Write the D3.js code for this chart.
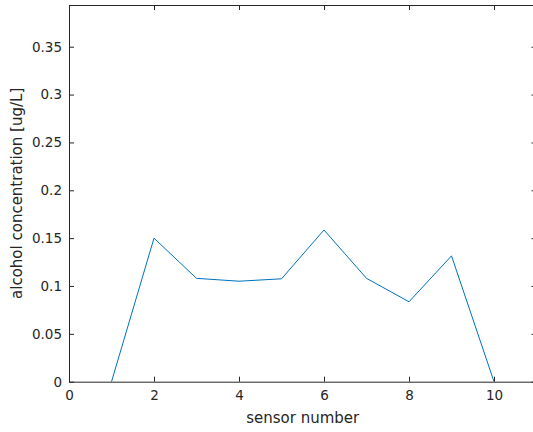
<!DOCTYPE html>
<html>
<head>
<meta charset="utf-8">
<script src="https://cdn.jsdelivr.net/npm/d3@7"></script>
<style>
  body { margin: 0; background: #fff; }
  svg { display: block; }
  text { font-family: "DejaVu Sans", sans-serif; fill: #262626; }
</style>
</head>
<body>
<div id="chart"></div>
<script>
// sensor readings
const sensors = [1, 2, 3, 4, 5, 6, 7, 8, 9, 10];
const concentration = [0, 0.150, 0.108, 0.105, 0.1075, 0.1585, 0.108, 0.0835, 0.1315, 0];
const xTicks = [0, 2, 4, 6, 8, 10];
const yTicks = [0, 0.05, 0.1, 0.15, 0.2, 0.25, 0.3, 0.35];

const width = 533, height = 432;
const plotLeft = 69, plotTop = 5, plotRight = 536.5, plotBottom = 381.7;

const svg = d3.select('#chart').append('svg')
  .attr('width', width)
  .attr('height', height);

const x = d3.scaleLinear().domain([0, 11]).range([plotLeft, plotRight]);
const y = d3.scaleLinear().domain([0, 0.3936]).range([plotBottom, plotTop]);

const axisColor = '#262626';

// bottom / left axes with labels
const gx = svg.append('g')
  .attr('transform', `translate(0,${plotBottom})`)
  .call(d3.axisBottom(x).tickValues(xTicks).tickFormat(d3.format('d')).tickSizeInner(-5).tickSizeOuter(0).tickPadding(9));
const gy = svg.append('g')
  .attr('transform', `translate(${plotLeft},0)`)
  .call(d3.axisLeft(y).tickValues(yTicks).tickFormat(d => d === 0 ? '0' : String(+d.toFixed(2))).tickSizeInner(-5).tickSizeOuter(0).tickPadding(7));

// top / right axes, ticks only
const gxt = svg.append('g')
  .attr('transform', `translate(0,${plotTop})`)
  .call(d3.axisTop(x).tickValues(xTicks).tickFormat('').tickSizeInner(-5).tickSizeOuter(0));
const gyr = svg.append('g')
  .attr('transform', `translate(${plotRight},0)`)
  .call(d3.axisRight(y).tickValues(yTicks).tickFormat('').tickSizeInner(-5).tickSizeOuter(0));

[gx, gy, gxt, gyr].forEach(g => {
  g.select('.domain').attr('stroke', axisColor).attr('stroke-width', 1);
  g.selectAll('.tick line').attr('stroke', axisColor);
  g.selectAll('.tick text').attr('fill', axisColor).style('font-size', '13.5px')
    .style('font-family', '"DejaVu Sans", sans-serif');
});

// line
const line = d3.line()
  .x((d, i) => x(sensors[i]))
  .y(d => y(d));

svg.append('path')
  .datum(concentration)
  .attr('fill', 'none')
  .attr('stroke', '#0072BD')
  .attr('stroke-width', 1)
  .attr('d', line);

// axis labels
svg.append('text')
  .attr('x', (plotLeft + plotRight) / 2)
  .attr('y', 423)
  .attr('text-anchor', 'middle')
  .style('font-size', '15px')
  .text('sensor number');

svg.append('text')
  .attr('transform', `translate(22,${(plotTop + plotBottom) / 2}) rotate(-90)`)
  .attr('text-anchor', 'middle')
  .style('font-size', '15px')
  .text('alcohol concentration [ug/L]');
</script>
</body>
</html>
